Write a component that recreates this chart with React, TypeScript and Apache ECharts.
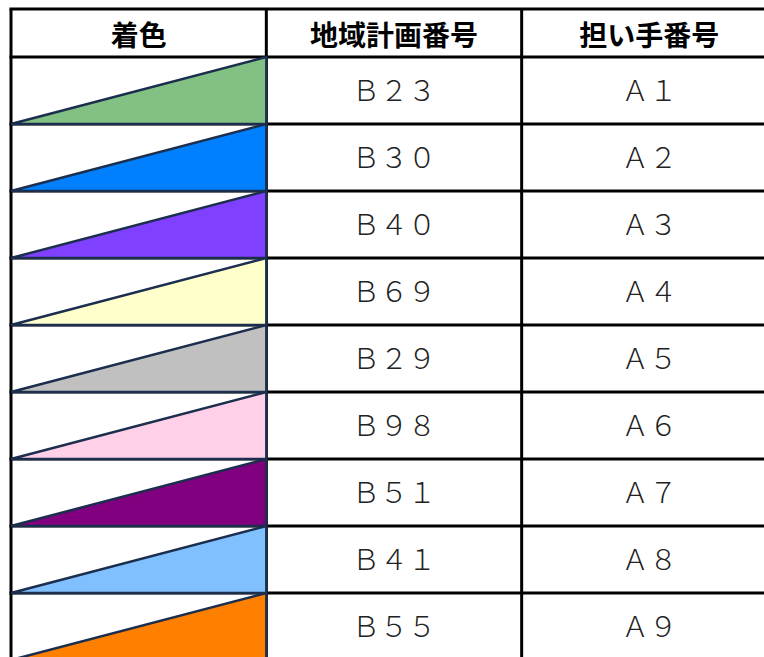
import React, { useEffect, useRef } from "react";
import * as echarts from "echarts";

const headers = ["着色", "地域計画番号", "担い手番号"];
const swatchColors = [
  "#82C083",
  "#0080FF",
  "#8040FF",
  "#FFFFCC",
  "#C0C0C0",
  "#FFD0E8",
  "#800080",
  "#80C0FF",
  "#FF8000",
];
const planNumbers = ["Ｂ２３", "Ｂ３０", "Ｂ４０", "Ｂ６９", "Ｂ２９", "Ｂ９８", "Ｂ５１", "Ｂ４１", "Ｂ５５"];
const ownerNumbers = ["Ａ１", "Ａ２", "Ａ３", "Ａ４", "Ａ５", "Ａ６", "Ａ７", "Ａ８", "Ａ９"];

const HEADER_SPAN = 48 / 67; // header row height relative to a data row
const FONT = "'Noto Sans CJK JP', 'Noto Sans', sans-serif";

export default function App() {
  const ref = useRef<HTMLDivElement>(null);

  useEffect(() => {
    if (!ref.current) return;
    const chart = echarts.init(ref.current, null, { renderer: "svg" });
    const rowIdx = [-1, ...planNumbers.map((_, i) => i)];

    const rowBounds = (api: any) => {
      const r = api.value(0);
      const yTop = r < 0 ? -HEADER_SPAN : r;
      const yBot = r < 0 ? 0 : r + 1;
      const p0 = api.coord([0, yTop]);
      const p1 = api.coord([1, yTop]);
      const p2 = api.coord([2, yTop]);
      const p3 = api.coord([3, yBot]);
      return { r, x0: p0[0], x1: p1[0], x2: p2[0], x3: p3[0], yt: p0[1], yb: p3[1] };
    };

    const option: any = {
      animation: false,
      backgroundColor: "#ffffff",
      grid: { left: 11, top: 9, width: 766, height: 651, outerBoundsMode: "none", containLabel: false },
      xAxis: { type: "value", min: 0, max: 3, show: false },
      yAxis: { type: "value", min: -HEADER_SPAN, max: 9, inverse: true, show: false },
      series: [
        {
          type: "custom",
          z: 2,
          clip: false,
          silent: true,
          data: rowIdx.map((r) => [r]),
          renderItem: (_p: any, api: any) => {
            const b = rowBounds(api);
            const ls = { stroke: "#000000", lineWidth: 3 };
            const children: any[] = [];
            const hl = (y: number) => ({ type: "line", shape: { x1: b.x0 - 1.5, y1: y, x2: b.x3 + 1.5, y2: y }, style: ls });
            const vl = (x: number) => ({ type: "line", shape: { x1: x, y1: b.yt, x2: x, y2: b.yb }, style: ls });
            if (b.r < 0) children.push(hl(b.yt));
            children.push(hl(b.yb));
            [b.x0, b.x1, b.x2, b.x3].forEach((x) => children.push(vl(x)));
            return { type: "group", children };
          },
        },
        {
          type: "custom",
          z: 3,
          clip: false,
          silent: true,
          data: rowIdx.map((r) => [r]),
          renderItem: (_p: any, api: any) => {
            const b = rowBounds(api);
            const cy = (b.yt + b.yb) / 2;
            const children: any[] = [];
            const xs = [(b.x0 + b.x1) / 2, (b.x1 + b.x2) / 2, (b.x2 + b.x3) / 2];
            if (b.r < 0) {
              headers.forEach((h, i) =>
                children.push({
                  type: "text",
                  style: {
                    x: xs[i],
                    y: cy + 1,
                    text: h,
                    fill: "#000000",
                    font: `bold 28px ${FONT}`,
                    align: "center",
                    verticalAlign: "middle",
                  },
                })
              );
            } else {
              children.push({
                type: "polygon",
                shape: { points: [[b.x0, b.yb], [b.x1, b.yt], [b.x1, b.yb]] },
                style: { fill: swatchColors[b.r], stroke: "#1C2E4E", lineWidth: 2.5, lineJoin: "miter" },
              });
              const texts = [planNumbers[b.r], ownerNumbers[b.r]];
              texts.forEach((t, i) =>
                children.push({
                  type: "text",
                  style: {
                    x: xs[i + 1],
                    y: cy - 1.5,
                    text: t,
                    fill: "#222222",
                    font: `300 28px ${FONT}`,
                    align: "center",
                    verticalAlign: "middle",
                  },
                })
              );
            }
            return { type: "group", children };
          },
        },
      ],
    };
    chart.setOption(option);
    return () => chart.dispose();
  }, []);

  return (
    <div
      ref={ref}
      style={{ position: "absolute", left: 0, top: 0, width: 764, height: 657 }}
    />
  );
}
